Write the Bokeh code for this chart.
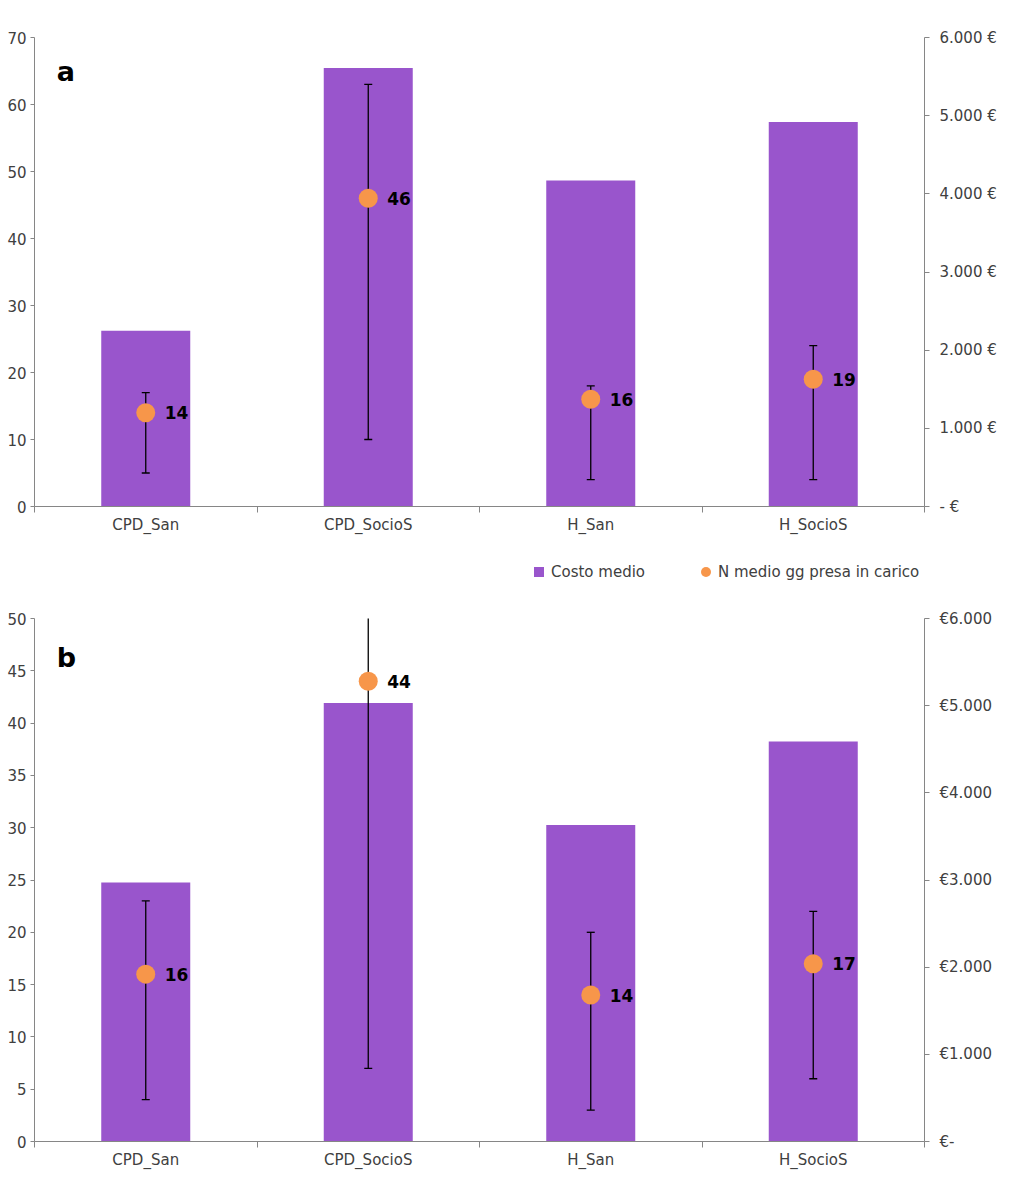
import numpy as np
from bokeh.plotting import figure
from bokeh.models import (Range1d, LinearAxis, FixedTicker, Legend, LegendItem,
                          ColumnDataSource, Label)
from bokeh.layouts import column
from bokeh.core.properties import value
from bokeh.embed import file_html
from bokeh.resources import INLINE

categories = ["CPD_San", "CPD_SocioS", "H_San", "H_SocioS"]

# Panel a
cost_a = [2250, 5610, 4170, 4920]
days_a = [14, 46, 16, 19]
low_a = [5, 10, 4, 4]
high_a = [17, 63, 18, 24]
left_ticks_a = [0, 10, 20, 30, 40, 50, 60, 70]
right_ticks = [0, 1000, 2000, 3000, 4000, 5000, 6000]
right_labels_a = ["-    €", "1.000 €", "2.000 €", "3.000 €", "4.000 €", "5.000 €", "6.000 €"]

# Panel b
cost_b = [2970, 5030, 3630, 4590]
days_b = [16, 44, 14, 17]
low_b = [4, 7, 3, 6]
high_b = [23, 60, 20, 22]
left_ticks_b = [0, 5, 10, 15, 20, 25, 30, 35, 40, 45, 50]
right_labels_b = ["€-", "€1.000", "€2.000", "€3.000", "€4.000", "€5.000", "€6.000"]

legend_labels = ["Costo medio", "N medio gg presa in carico"]

PURPLE = "#9955CC"
ORANGE = "#F7964A"
AXIS = "#868686"
TXT = "#404040"
FONT = "DejaVu Sans"
FS = "15px"

xpos = np.arange(len(categories)) + 0.5


def make_panel(cost, days, low, high, yticks, ymax, rlabels, letter, letter_y,
               frame_h, top, bottom):
    p = figure(frame_width=890, frame_height=frame_h,
               x_range=Range1d(0, len(categories)), y_range=Range1d(0, ymax),
               output_backend="svg", toolbar_location=None,
               min_border_left=34, min_border_right=84,
               min_border_top=top, min_border_bottom=bottom)
    p.extra_y_ranges = {"cost": Range1d(0, 6000)}
    p.xgrid.visible = False
    p.ygrid.visible = False
    p.outline_line_color = None
    p.background_fill_color = "white"
    p.border_fill_color = "white"

    src = ColumnDataSource(dict(x=xpos, cost=cost, days=days, low=low, high=high,
                                lab=[str(d) for d in days]))
    p.vbar(x="x", top="cost", width=0.4, source=src, y_range_name="cost",
           fill_color=PURPLE, line_color=None)
    p.segment(x0="x", y0="low", x1="x", y1="high", source=src,
              line_color="black", line_width=1.3)
    p.scatter(x="x", y="low", source=src, marker="dash", size=8,
              line_color="black", line_width=1.3)
    p.scatter(x="x", y="high", source=src, marker="dash", size=8,
              line_color="black", line_width=1.3)
    p.scatter(x="x", y="days", source=src, marker="circle", size=19,
              fill_color=ORANGE, line_color=None)
    p.text(x="x", y="days", text="lab", source=src, x_offset=19,
           text_align="left", text_baseline="middle",
           text_font=value(FONT), text_font_style="bold",
           text_font_size="17px", text_color="black")

    p.add_layout(Label(x=0.1, y=letter_y, text=letter, text_font=FONT,
                       text_font_style="bold", text_font_size="27px",
                       text_color="black", text_baseline="middle"))

    # bottom axis
    xa = p.xaxis[0]
    xa.ticker = FixedTicker(ticks=list(xpos), minor_ticks=list(range(len(categories) + 1)))
    xa.major_label_overrides = {float(x): c for x, c in zip(xpos, categories)}
    xa.major_tick_out = 0
    xa.major_tick_in = 0
    xa.minor_tick_out = 6
    xa.minor_tick_in = 0
    xa.minor_tick_line_color = AXIS
    xa.axis_line_color = AXIS
    xa.major_label_text_font = FONT
    xa.major_label_text_font_size = FS
    xa.major_label_text_color = TXT
    xa.major_label_standoff = 3

    # left axis
    ya = p.yaxis[0]
    ya.ticker = FixedTicker(ticks=yticks, minor_ticks=[])
    ya.major_tick_out = 4
    ya.major_tick_in = 0
    ya.major_tick_line_color = AXIS
    ya.axis_line_color = AXIS
    ya.major_label_text_font = FONT
    ya.major_label_text_font_size = FS
    ya.major_label_text_color = TXT
    ya.major_label_standoff = 4

    ra = LinearAxis(y_range_name="cost",
                    ticker=FixedTicker(ticks=right_ticks, minor_ticks=[]))
    ra.major_label_overrides = {t: l for t, l in zip(right_ticks, rlabels)}
    ra.major_tick_out = 5
    ra.major_tick_in = 0
    ra.major_tick_line_color = AXIS
    ra.axis_line_color = AXIS
    ra.major_label_text_font = FONT
    ra.major_label_text_font_size = FS
    ra.major_label_text_color = TXT
    ra.major_label_standoff = 10
    p.add_layout(ra, "right")
    return p


pa = make_panel(cost_a, days_a, low_a, high_a, left_ticks_a, 70, right_labels_a,
                "a", 65.0, 469, 37, 40)

# legend strip between the panels
pl = figure(frame_width=1008, frame_height=50, x_range=Range1d(0, 1),
            y_range=Range1d(0, 1), output_backend="svg", toolbar_location=None,
            x_axis_location=None, y_axis_location=None, min_border=0)
pl.xgrid.visible = False
pl.ygrid.visible = False
pl.outline_line_color = None
r_sq = pl.scatter(x=[-10], y=[-10], marker="square", fill_color=PURPLE,
                  line_color=None)
r_ci = pl.scatter(x=[-10], y=[-10], marker="circle", fill_color=ORANGE,
                  line_color=None)
leg = Legend(items=[LegendItem(label=legend_labels[0], renderers=[r_sq]),
                    LegendItem(label=legend_labels[1], renderers=[r_ci])],
             orientation="horizontal", location=(526, 12),
             glyph_width=25, glyph_height=25, label_standoff=-4,
             spacing=48, border_line_color=None, background_fill_alpha=0,
             label_text_font=FONT, label_text_font_size=FS,
             label_text_color=TXT, margin=0, padding=0)
pl.add_layout(leg, "center")

pb = make_panel(cost_b, days_b, low_b, high_b, left_ticks_b, 50, right_labels_b,
                "b", 46.3, 523, 22, 40)

layout = column(pa, pl, pb, spacing=0)
open("out.html", "w").write(file_html(layout, INLINE))
